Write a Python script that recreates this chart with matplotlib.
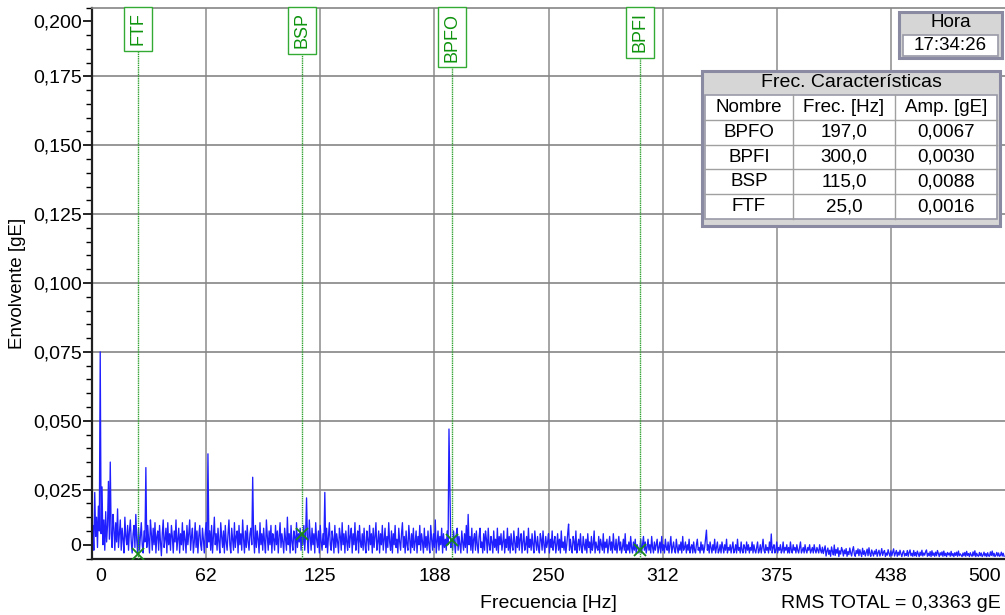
import numpy as np
import matplotlib
matplotlib.use("Agg")
import matplotlib.pyplot as plt
from matplotlib.patches import Rectangle
from matplotlib.lines import Line2D

plt.rcParams['font.family'] = ['Liberation Sans', 'DejaVu Sans']

# ---------------- data ----------------
# Envelope spectrum amplitude in mgE (1e-3 gE), one value per 0.5 Hz bin, 50 Hz per band
band_000_050 = [5, 12, 3, 24, 8, 15, 4, 19, 10, 75, 9, 26, 5, 14, 3, 17, 6, 12, 28, 7,
                35, 9, 4, 16, 11, 3, 13, 6, 18, 4, 9, 14, 3, 11, 7, 2, 15, 8, 5, 12,
                3, 10, 14, 6, 2, 9, 12, 4, 16, 7, 1.6, 11, 3, 8, 13, 5, 2, 10, 6, 33,
                4, 12, 7, 2, 14, 9, 3, 11, 5, 13, 2, 8, 10, 3, 12, 6, 1, 9, 14, 4,
                7, 11, 2, 13, 5, 9, 3, 12, 8, 2, 10, 6, 14, 3, 7, 11, 2, 9, 5, 13]
band_050_100 = [3, 10, 7, 2, 12, 5, 9, 14, 3, 8, 11, 2, 6, 13, 4, 10, 2, 8, 12, 5,
                3, 11, 7, 2, 9, 13, 4, 38, 6, 10, 3, 12, 2, 8, 15, 5, 9, 3, 11, 6,
                2, 13, 8, 4, 10, 2, 12, 6, 3, 9, 14, 5, 2, 11, 7, 3, 13, 4, 8, 10,
                2, 12, 5, 9, 3, 14, 7, 2, 10, 4, 12, 6, 3, 9, 11, 5, 29.5, 8, 2, 12,
                4, 10, 7, 2, 13, 5, 9, 3, 11, 6, 2, 14, 8, 3, 10, 5, 12, 2, 9, 7]
band_100_150 = [3, 12, 5, 10, 2, 8, 13, 4, 9, 6, 2, 11, 7, 3, 15, 5, 9, 2, 12, 6,
                3, 10, 8, 2, 13, 4, 9, 6, 11, 3, 8.8, 5, 12, 3, 9, 22, 6, 2, 14, 8,
                3, 11, 5, 9, 2, 13, 7, 4, 10, 2, 12, 6, 3, 9, 5, 24, 4, 11, 2, 8,
                13, 5, 3, 10, 7, 2, 12, 4, 9, 6, 2, 11, 8, 3, 13, 5, 9, 2, 10, 6,
                3, 12, 4, 8, 11, 2, 9, 5, 13, 3, 7, 10, 2, 12, 6, 4, 9, 3, 11, 5]
band_150_200 = [2, 10, 7, 3, 12, 5, 9, 2, 11, 4, 8, 13, 3, 6, 10, 2, 9, 5, 12, 3,
                7, 11, 2, 8, 4, 13, 6, 3, 10, 2, 9, 5, 12, 4, 7, 2, 11, 6, 3, 9,
                13, 4, 8, 2, 10, 5, 3, 12, 7, 2, 9, 4, 11, 3, 6, 10, 2, 8, 5, 12,
                3, 9, 6, 2, 11, 4, 8, 3, 10, 5, 2, 12, 7, 3, 9, 4, 14, 2, 6, 10,
                3, 8, 5, 11, 2, 9, 4, 7, 3, 10, 5, 47, 25, 4, 6.7, 3, 10, 6, 2, 9]
band_200_250 = [11, 3, 8, 5, 2, 10, 6, 3, 9, 4, 12, 2, 16, 5, 8, 3, 11, 2, 7, 9,
                3, 10, 5, 2, 8, 11, 4, 6, 2, 9, 3, 10, 7, 2, 11, 5, 3, 8, 6, 2,
                10, 4, 7, 3, 11, 2, 8, 5, 9, 3, 6, 10, 2, 7, 4, 11, 3, 8, 2, 9,
                5, 3, 10, 6, 2, 8, 4, 11, 3, 7, 9, 2, 6, 10, 3, 5, 8, 2, 11, 4,
                7, 3, 9, 5, 2, 10, 6, 3, 8, 4, 2, 9, 7, 3, 10, 5, 2, 8, 4, 6]
band_250_300 = [9, 2, 7, 4, 10, 3, 6, 8, 2, 5, 9, 3, 7, 2, 10, 4, 6, 3, 8, 2,
                5, 9, 12.5, 3, 7, 4, 2, 8, 6, 3, 10, 2, 5, 7, 3, 9, 4, 2, 8, 5,
                3, 7, 2, 9, 4, 6, 2, 8, 3, 5, 10, 2, 6, 4, 3, 8, 2, 7, 5, 3,
                9, 2, 6, 4, 7, 2, 5, 8, 3, 6, 2, 9, 4, 3, 7, 2, 5, 8, 3, 6,
                2, 4, 7, 3, 9, 2, 5, 3, 6, 2, 8, 4, 2, 6, 3, 7, 2, 5, 4, 2]
band_300_350 = [3.0, 7, 2, 5, 8, 3, 6, 2, 4, 7, 3, 5, 2, 8, 4, 2, 6, 3, 5, 7,
                2, 4, 6, 2, 8, 3, 5, 2, 7, 4, 3, 6, 2, 5, 8, 2, 4, 6, 3, 2,
                7, 4, 2, 5, 3, 6, 2, 8, 3, 4, 6, 2, 5, 3, 7, 2, 4, 5, 2, 6,
                3, 2, 5, 7, 3, 4, 2, 6, 3, 5, 2, 4, 7, 10.3, 3, 5, 2, 6, 4, 2,
                5, 3, 7, 2, 4, 6, 2, 3, 5, 2, 6, 4, 2, 5, 3, 7, 2, 4, 3, 5]
band_350_400 = [2, 4, 6, 2, 3, 5, 2, 7, 3, 4, 2, 6, 3, 2, 5, 4, 2, 6, 3, 5,
                2, 4, 3, 6, 2, 5, 3, 2, 4, 6, 2, 3, 5, 2, 4, 7, 3, 2, 5, 3,
                4, 2, 6, 3, 8.9, 2, 4, 5, 2, 3, 6, 2, 4, 3, 5, 2, 3, 6, 2, 4,
                3, 5, 2, 4, 2, 6, 3, 2, 5, 3, 4, 2, 5, 3, 2, 4, 6, 2, 3, 4,
                2, 5, 3, 2, 4, 3, 5, 2, 3, 4, 2, 5, 3, 2, 4, 3, 2, 5, 3, 2]
band_400_450 = [4.1, 1.8, 3.2, 4.6, 0.9, 2.7, 3.8, 1.5, 3.0, 0.8, 4.2, 2.6, 1.3, 4.9, 1.1, 3.3, 1.9, 3.9, 0.7, 2.8,
                1.6, 4.0, 2.9, 0.9, 3.1, 1.7, 3.6, 0.8, 2.5, 1.4, 3.8, 2.0, 0.9, 3.0, 4.3, 1.6, 0.8, 2.9, 1.8, 3.5,
                1.0, 3.2, 1.9, 0.7, 3.7, 1.5, 2.8, 0.9, 2.2, 3.4, 1.0, 3.9, 1.7, 0.8, 3.1, 2.0, 0.9, 2.7, 1.6, 3.3,
                0.8, 2.1, 3.0, 0.9, 1.9, 3.6, 1.1, 2.3, 2.9, 0.7, 2.0, 1.2, 3.2, 1.8, 0.8, 2.8, 1.0, 2.2, 3.5, 0.9,
                1.9, 2.9, 0.8, 2.3, 1.2, 3.0, 1.7, 0.7, 2.1, 2.8, 0.9, 1.8, 1.1, 2.9, 0.8, 2.2, 3.1, 1.0, 1.9, 0.8]
band_450_500 = [2.9, 1.0, 2.2, 0.8, 2.7, 1.7, 0.7, 2.3, 1.1, 3.0, 0.9, 2.0, 1.2, 2.4, 3.1, 0.8, 1.9, 1.0, 2.5, 0.7,
                2.8, 1.1, 2.0, 0.8, 2.3, 1.0, 2.9, 1.8, 0.7, 2.1, 1.2, 2.4, 0.8, 2.7, 1.0, 1.9, 0.7, 2.2, 1.3, 2.0,
                0.8, 2.6, 1.0, 1.8, 0.7, 2.1, 1.1, 2.3, 0.8, 2.7, 1.0, 1.7, 1.2, 0.7, 2.0, 1.0, 2.2, 0.8, 2.6, 1.1,
                1.8, 0.7, 2.1, 1.2, 0.8, 2.4, 1.0, 2.8, 0.7, 1.9, 1.1, 0.8, 2.2, 1.0, 2.0, 0.7, 1.2, 2.3, 0.9, 1.8,
                0.7, 2.1, 1.0, 0.8, 2.4, 1.1, 2.7, 0.9, 1.9, 0.7, 1.2, 2.2, 0.9, 2.0, 0.8, 1.1, 2.3, 0.9, 1.9, 0.8]
bin_width_hz = 0.5

# characteristic frequencies
char_names = ['BPFO', 'BPFI', 'BSP', 'FTF']
char_freq_hz = [197.0, 300.0, 115.0, 25.0]
char_amp_ge = [0.0067, 0.0030, 0.0088, 0.0016]

x_tick_labels = ['0', '62', '125', '188', '250', '312', '375', '438', '500']
y_tick_labels = ['0', '0,025', '0,050', '0,075', '0,100', '0,125', '0,150', '0,175', '0,200']

hora_text = '17:34:26'
rms_text = 'RMS TOTAL = 0,3363 gE'
x_label = 'Frecuencia [Hz]'
y_label = 'Envolvente [gE]'

# ---------------- figure ----------------
W, H = 1005, 615
fig = plt.figure(figsize=(W / 100, H / 100), dpi=100)
fig.patch.set_facecolor('white')

ax_left, ax_right, ax_top, ax_bottom = 92, 1005, 7.5, 558.5
ax = fig.add_axes([ax_left / W, 1 - ax_bottom / H, (ax_right - ax_left) / W, (ax_bottom - ax_top) / H])

amps = np.concatenate([band_000_050, band_050_100, band_100_150, band_150_200, band_200_250,
                       band_250_300, band_300_350, band_350_400, band_400_450, band_450_500]) / 1000.0
freqs = np.arange(len(amps)) * bin_width_hz

ax.set_xlim(0, 500)
ax.set_ylim(0, 0.2)

# grid
for xv in [62.5, 125, 187.5, 250, 312.5, 375, 437.5]:
    ax.axvline(xv, color='#a4a4a4', lw=1.4, zorder=0)
for yv in [0.025, 0.05, 0.075, 0.1, 0.125, 0.15, 0.175]:
    ax.axhline(yv, color='#858585', lw=1.2, zorder=0)

ax.plot(freqs, amps, color='#1f1fff', lw=0.95, zorder=2)

# characteristic frequency markers
for name, f, a in zip(char_names, char_freq_hz, char_amp_ge):
    ax.axvline(f, color='#2ea02e', lw=1.0, ls=(0, (1, 0.6)), zorder=3)
    ax.plot([f], [a], marker='x', color='#1a8a1a', ms=9, mew=1.3, zorder=4)
    ax.annotate(name, xy=(f, 1.0), xycoords=('data', 'axes fraction'),
                xytext=(0, -5), textcoords='offset pixels',
                rotation=90, ha='center', va='top', fontsize=13, color='#0f940f',
                bbox=dict(boxstyle='square,pad=0.3', fc='white', ec='#33aa33', lw=1.0),
                zorder=5, annotation_clip=False)

# ticks
x_tick_pos = [4.5, 62.5, 125, 187.5, 250, 312.5, 375, 437.5, 489]
ax.set_xticks(x_tick_pos)
ax.set_xticklabels(x_tick_labels)
ax.tick_params(axis='x', length=0, pad=7, labelsize=14)

y_tick_pos = [0.005, 0.025, 0.05, 0.075, 0.1, 0.125, 0.15, 0.175, 0.195]
ax.set_yticks(y_tick_pos)
ax.set_yticklabels(y_tick_labels)
minor = [v for v in np.round(np.arange(0, 0.2001, 0.005), 3) if not np.any(np.isclose(v, y_tick_pos))]
ax.set_yticks(minor, minor=True)
ax.tick_params(axis='y', which='major', length=6.5, width=1.2, pad=1, labelsize=14, direction='out')
ax.tick_params(axis='y', which='minor', length=4.3, width=1.0, direction='out')

ax.spines['left'].set_linewidth(1.6)
ax.spines['left'].set_color('#202020')
ax.spines['bottom'].set_linewidth(1.6)
ax.spines['bottom'].set_color('#202020')
ax.spines['top'].set_color('#858585')
ax.spines['top'].set_linewidth(1.2)
ax.spines['right'].set_visible(False)

fig.text(18 / W, 1 - 283 / H, y_label, rotation=90, ha='center', va='center', fontsize=13.5)
fig.text(548 / W, 1 - 604 / H, x_label, ha='center', va='center', fontsize=14)
fig.text(1001 / W, 1 - 604 / H, rms_text, ha='right', va='center', fontsize=14)


# ---------------- info boxes (pixel coordinates) ----------------
def prect(x0, y0, x1, y1, **kw):
    fig.patches.append(Rectangle((x0 / W, 1 - y1 / H), (x1 - x0) / W, (y1 - y0) / H,
                                 transform=fig.transFigure, **kw))


def pline(x0, y0, x1, y1, **kw):
    fig.lines.append(Line2D([x0 / W, x1 / W], [1 - y0 / H, 1 - y1 / H], transform=fig.transFigure, **kw))


def ptext(x, y, s, **kw):
    fig.text(x / W, 1 - y / H, s, ha='center', va='center', **kw)


border = '#8a8aa2'
header = '#d6d6d6'

# Hora box
prect(899, 12, 1002, 58, fc=header, ec=border, lw=2.2, zorder=10)
prect(903, 35, 998, 56, fc='white', ec='#9a9aa8', lw=1.2, zorder=11)
ptext(950.5, 22.5, 'Hora', fontsize=13.5, zorder=12)
ptext(950.5, 46, hora_text, fontsize=13.5, zorder=12)

# Characteristic frequency table
prect(702, 71, 1000, 226, fc=header, ec=border, lw=2.2, zorder=10)
ptext(851, 82.5, 'Frec. Características', fontsize=14, zorder=12)
tx0, tx1, ty0 = 705, 997, 95
row_h = 24.8
n_rows = len(char_names) + 1
prect(tx0, ty0, tx1, ty0 + n_rows * row_h, fc='white', ec='#9a9aa8', lw=1.2, zorder=11)
col_edges = [tx0, 793, 895, tx1]
for c in col_edges[1:-1]:
    pline(c, ty0, c, ty0 + n_rows * row_h, color='#a0a0a0', lw=1.0, zorder=12)
for r in range(1, n_rows):
    pline(tx0, ty0 + r * row_h, tx1, ty0 + r * row_h, color='#a0a0a0', lw=1.0, zorder=12)

rows = [['Nombre', 'Frec. [Hz]', 'Amp. [gE]']]
for name, f, a in zip(char_names, char_freq_hz, char_amp_ge):
    rows.append([name, f"{f:.1f}".replace('.', ','), f"{a:.4f}".replace('.', ',')])
for r, row in enumerate(rows):
    yc = ty0 + (r + 0.5) * row_h
    for c, val in enumerate(row):
        xc = (col_edges[c] + col_edges[c + 1]) / 2
        ptext(xc, yc, val, fontsize=13.5, zorder=13)

fig.savefig('out.png', dpi=100)
